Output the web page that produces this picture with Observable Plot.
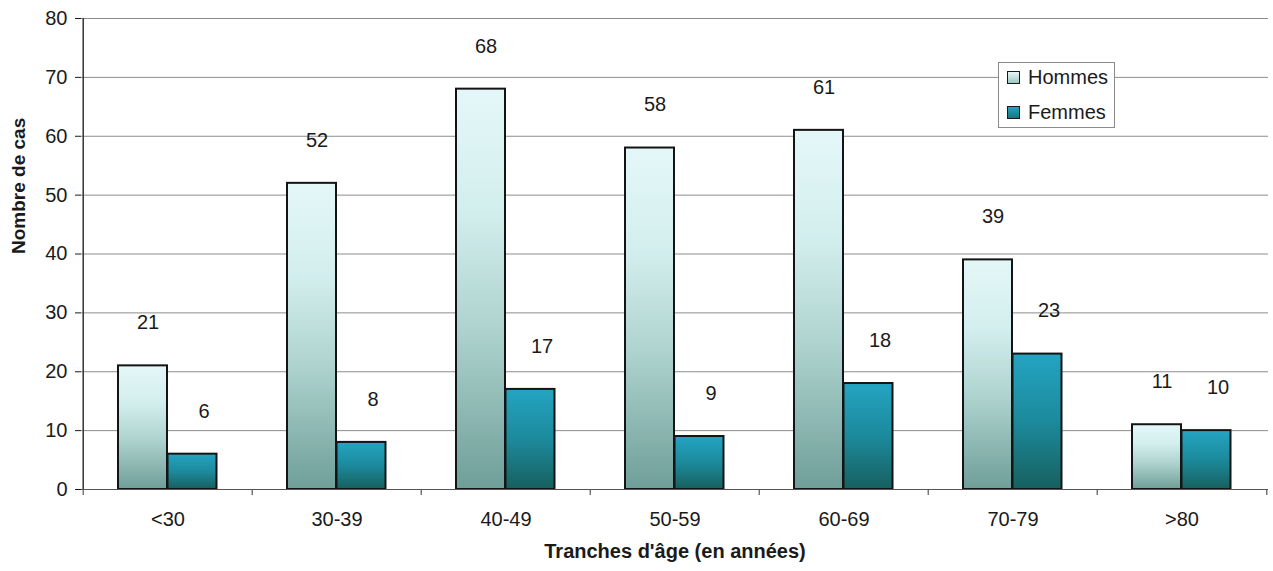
<!DOCTYPE html>
<html>
<head>
<meta charset="utf-8">
<script src="https://cdn.jsdelivr.net/npm/d3@7"></script>
<script src="https://cdn.jsdelivr.net/npm/@observablehq/plot@0.6"></script>
<style>
  html, body { margin: 0; padding: 0; background: #fff; }
  #wrap { position: relative; width: 1273px; height: 571px; font-family: "Liberation Sans", Arial, sans-serif; }
  #legend { position: absolute; left: 998px; top: 62px; width: 117px; height: 66px; border: 1px solid #8a8a8a; background: #fff; box-sizing: border-box; font-size: 20px; color: #1a1a1a; }
  .item { position: absolute; left: 8px; display: flex; align-items: center; }
  .sw { width: 11px; height: 11px; border: 1.5px solid #1a1a1a; margin-right: 8px; }
</style>
</head>
<body>
<div id="wrap"></div>
<script>
const categories = ["<30", "30-39", "40-49", "50-59", "60-69", "70-79", ">80"];
const hommes = [21, 52, 68, 58, 61, 39, 11];
const femmes = [6, 8, 17, 9, 18, 23, 10];
const yTicks = [0, 10, 20, 30, 40, 50, 60, 70, 80];
const seriesNames = ["Hommes", "Femmes"];
const xTitle = "Tranches d'âge (en années)";
const yTitle = "Nombre de cas";

const dataH = categories.map((c, i) => ({cat: c, v: hommes[i]}));
const dataF = categories.map((c, i) => ({cat: c, v: femmes[i]}));

const halfStep = (1273 - 81 - 5) / categories.length / 2;

const chart = Plot.plot({
  width: 1273,
  height: 571,
  marginLeft: 81,
  marginRight: 5,
  marginTop: 18,
  marginBottom: 82,
  style: {fontFamily: "Liberation Sans, Arial, sans-serif", fontSize: "20px", color: "#1a1a1a", background: "#fff", overflow: "visible"},
  x: {domain: categories, padding: 0, tickSize: 0, tickPadding: 22, label: null},
  y: {domain: [0, 80], ticks: yTicks, tickSize: 6, tickPadding: 8, label: null, tickFormat: d => d},
  marks: [
    Plot.ruleY(yTicks, {stroke: "#8c8c8c", strokeWidth: 1}),
    Plot.barY(dataH, {x: "cat", y: "v", fill: "url(#gH)", stroke: "#141414", strokeWidth: 2, insetLeft: 35, insetRight: 85}),
    Plot.barY(dataF, {x: "cat", y: "v", fill: "url(#gF)", stroke: "#141414", strokeWidth: 2, insetLeft: 84.5, insetRight: 35.5}),
    Plot.text(dataH, {x: "cat", y: "v", text: d => String(d.v), dx: -20, dy: -43, fontSize: 20, fill: "#1a1a1a"}),
    Plot.text(dataF, {x: "cat", y: "v", text: d => String(d.v), dx: 36, dy: -43, fontSize: 20, fill: "#1a1a1a"}),
    Plot.ruleY([0], {stroke: "#555", strokeWidth: 1.2}),
    Plot.ruleX(categories, {x: d => d, dx: -halfStep, y1: 0, y2: -1, stroke: "#555", strokeWidth: 1.2}),
    Plot.ruleX([categories[categories.length - 1]], {x: d => d, dx: halfStep, y1: 0, y2: -1, stroke: "#555", strokeWidth: 1.2}),
    Plot.ruleX([categories[0]], {x: d => d, dx: -halfStep, y1: 0, y2: 80, stroke: "#333", strokeWidth: 1.5}),
    Plot.text([xTitle], {frameAnchor: "bottom", text: d => d, dy: 68, fontWeight: "bold", fontSize: 20, fill: "#1a1a1a"}),
    Plot.text([yTitle], {frameAnchor: "left", text: d => d, dx: -63, rotate: -90, fontWeight: "bold", fontSize: 19, fill: "#1a1a1a"})
  ]
});

const svg = d3.select(chart.tagName.toLowerCase() === "svg" ? chart : chart.querySelector("svg"));
const defs = svg.insert("defs", ":first-child");
const gH = defs.append("linearGradient").attr("id", "gH").attr("x1", 0).attr("y1", 0).attr("x2", 0).attr("y2", 1);
[[0, "#e4f7f8"], [0.3, "#d3eeee"], [0.6, "#aed3cf"], [1, "#6f9e98"]].forEach(([o, c]) => gH.append("stop").attr("offset", o).attr("stop-color", c));
const gF = defs.append("linearGradient").attr("id", "gF").attr("x1", 0).attr("y1", 0).attr("x2", 0).attr("y2", 1);
[[0, "#24a4c2"], [0.5, "#1c8a9c"], [1, "#17605f"]].forEach(([o, c]) => gF.append("stop").attr("offset", o).attr("stop-color", c));

const wrap = document.getElementById("wrap");
wrap.appendChild(chart);

const legend = document.createElement("div");
legend.id = "legend";
const swFills = ["linear-gradient(#e4f7f8, #9fc7c2)", "linear-gradient(#24a4c2, #1a7480)"];
seriesNames.forEach((name, i) => {
  const item = document.createElement("div");
  item.className = "item";
  item.style.top = (i === 0 ? 3 : 38) + "px";
  const sw = document.createElement("div");
  sw.className = "sw";
  sw.style.background = swFills[i];
  const lab = document.createElement("span");
  lab.textContent = name;
  item.appendChild(sw);
  item.appendChild(lab);
  legend.appendChild(item);
});
wrap.appendChild(legend);
</script>
</body>
</html>
